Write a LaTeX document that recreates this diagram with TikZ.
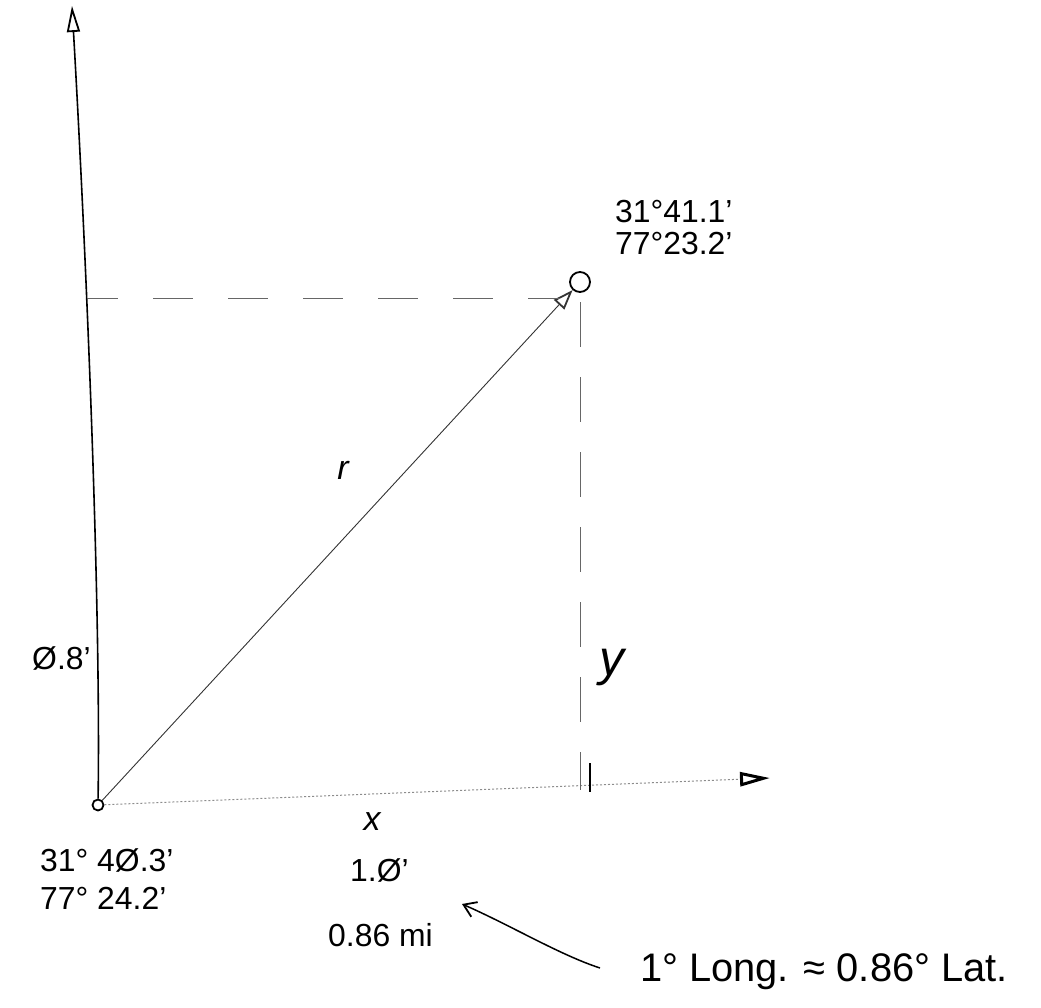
\documentclass[tikz,border=0pt]{standalone}
\usepackage{fontspec}
\setmainfont{Liberation Sans}
\usetikzlibrary{arrows.meta,calc}
\begin{document}
\begin{tikzpicture}[x=1bp,y=-1bp,
  axisline/.style={line width=1.6bp,black},
  vecline/.style={line width=0.9bp,black!80},
  guide/.style={line width=0.9bp,black!60,dash pattern=on 40bp off 35bp},
  faint/.style={line width=1bp,black!45,dash pattern=on 2bp off 2bp},
  hand/.style={font=\fontsize{32}{34}\selectfont,inner sep=0pt},
  big/.style={font=\fontsize{40}{42}\selectfont,inner sep=0pt}]
\useasboundingbox (0,0) rectangle (1041,1008);
% points
\node[circle,draw,line width=1.8bp,minimum size=11bp,inner sep=0pt] (O) at (98,805) {};
\node[circle,draw,line width=1.8bp,minimum size=20bp,inner sep=0pt] (P) at (580,282) {};
\coordinate (ytip) at (72,6);
\coordinate (xtip) at (770,778);
\coordinate (hL) at (88,298);
\coordinate (hR) at (560,298);
\coordinate (vT) at (580,302);
\coordinate (vB) at (580,790);
\coordinate (tickT) at (590,763);
\coordinate (tickB) at (590,792);
\coordinate (nS) at (600,968);
\coordinate (nE) at (462,904);
% axes
\draw[axisline,-{Triangle[open,length=26bp,width=13bp,line width=1.8bp]}] (O) .. controls (101,600) and (86,250) .. (ytip);
\draw[faint,-{Triangle[open,length=30bp,width=14bp,line width=3bp,color=black]}] (O) -- (xtip);
\draw[line width=1.2bp] (tickT) -- (tickB);
% vector
\draw[vecline,-{Triangle[open,length=20bp,width=14bp,line width=1.8bp]}] (O) -- (P);
% guides
\draw[guide,dash phase=10bp] (hL) -- (hR);
\draw[guide,dash pattern=on 45bp off 30bp] (vT) -- (vB);
% note arrow
\draw[line width=1.5bp,-{Straight Barb[length=12bp,width=16bp,line width=1.8bp]}] (nS) .. controls (560,955) and (510,925) .. (nE);
% labels
\node[hand,anchor=west] (pLat) at (615,212) {31°41.1'};
\node[hand,anchor=west] (pLon) at (615,244) {77°23.2'};
\node[hand,anchor=west] (oLat) at (40,860) {31° 4Ø.3'};
\node[hand,anchor=west] (oLon) at (40,898) {77° 24.2'};
\node[hand,anchor=west] (dy) at (32,658) {Ø.8'};
\node[font=\fontsize{34}{36}\selectfont\itshape,inner sep=0pt] (r) at (343,470) {r};
\node[font=\fontsize{50}{52}\selectfont\itshape,inner sep=0pt] (y) at (612,668) {y};
\node[font=\fontsize{34}{36}\selectfont\itshape,inner sep=0pt] (x) at (372,822) {x};
\node[hand,anchor=west] (dx) at (350,870) {1.Ø'};
\node[hand,anchor=west] (mi) at (328,935) {0.86 mi};
\node[big,anchor=west] (note) at (640,972) {1° Long. ≈ 0.86° Lat.};
\end{tikzpicture}
\end{document}
